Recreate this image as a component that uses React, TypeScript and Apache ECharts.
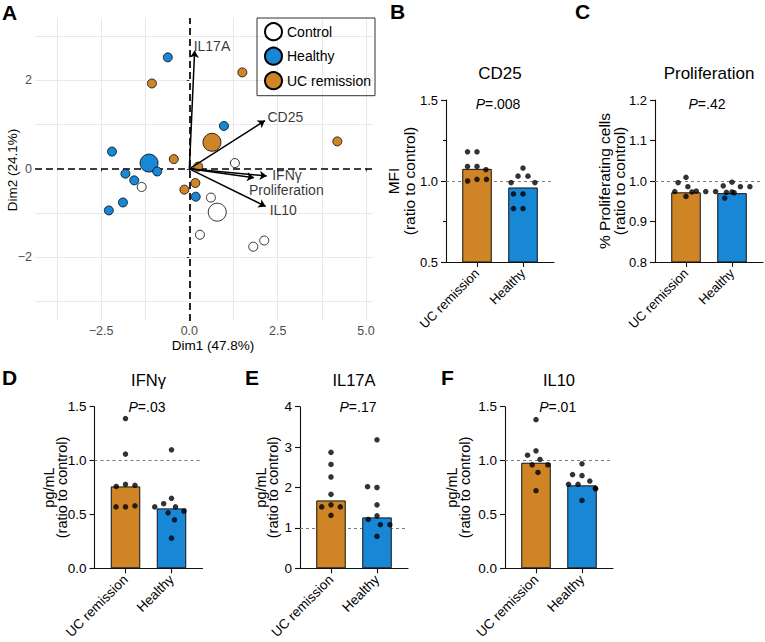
import React, { useEffect, useRef } from 'react';
import * as echarts from 'echarts';

const FONT = '"Liberation Sans", Arial, Helvetica, sans-serif';
const ORANGE = '#CF8526';
const BLUE = '#1787D6';

// ---------- Panel A: PCA biplot ----------
const controlX = [1.29, -1.35, 0.61, 0.3, 2.12, 1.81];
const controlY = [0.13, -0.41, -0.65, -1.49, -1.62, -1.76];
const controlMean = [0.79, -0.98];
const healthyX = [-0.61, 0.98, -2.19, -0.91, -1.81, -1.56, -1.88, -2.28, 0.18];
const healthyY = [2.52, 0.97, 0.39, -0.06, -0.11, -0.26, -0.76, -0.94, -0.63];
const healthyMean = [-1.14, 0.13];
const ucX = [-1.06, 1.5, 4.19, -0.44, 0.25, 0.17, -0.14];
const ucY = [1.93, 2.18, 0.62, 0.22, 0.05, -0.32, -0.47];
const ucMean = [0.64, 0.6];

const loadingNames = ['IL17A', 'CD25', 'IFNγ', 'Proliferation', 'IL10'];
const loadingX = [0.15, 2.14, 2.19, 1.83, 2.16];
const loadingY = [2.67, 1.09, -0.16, -0.2, -0.85];

const pcaXTicks = [-2.5, 0, 2.5, 5];
const pcaYTicks = [-2, 0, 2];
const pcaXGrid = [-3.75, -2.5, -1.25, 1.25, 2.5, 3.75, 5];
const pcaYGrid = [-3, -2, -1, 1, 2, 3];
const pcaXName = 'Dim1 (47.8%)';
const pcaYName = 'Dim2 (24.1%)';
const legendNames = ['Control', 'Healthy', 'UC remission'];

// ---------- Panels B-F ----------
const groupNames = ['UC remission', 'Healthy'];

const cd25Bars = [1.075, 0.96];
const cd25UC = [1.18, 1.18, 1.09, 1.09, 1.07, 1.01, 1.0, 1.01];
const cd25Healthy = [1.08, 1.03, 1.03, 0.99, 0.99, 0.92, 0.92, 0.83, 0.83];

const prolifBars = [0.972, 0.97];
const prolifUC = [1.009, 0.996, 0.986, 0.975, 0.974, 0.974, 0.973, 0.962];
const prolifHealthy = [0.997, 0.988, 0.986, 0.986, 0.974, 0.973, 0.972, 0.971, 0.958];

const ifngBars = [0.76, 0.556];
const ifngUC = [1.39, 1.06, 0.78, 0.76, 0.77, 0.57, 0.58, 0.57];
const ifngHealthy = [1.1, 0.65, 0.6, 0.57, 0.53, 0.57, 0.515, 0.45, 0.28];

const il17Bars = [1.68, 1.26];
const il17UC = [2.87, 2.57, 2.26, 1.83, 1.57, 1.52, 1.52, 1.31];
const il17Healthy = [3.18, 2.0, 2.02, 1.57, 1.3, 1.21, 1.08, 1.08, 0.79];

const il10Bars = [0.98, 0.77];
const il10UC = [1.38, 1.09, 1.05, 1.01, 0.96, 0.96, 0.89, 0.72];
const il10Healthy = [0.97, 0.86, 0.87, 0.81, 0.78, 0.78, 0.74, 0.74, 0.63];

const pValues = ['.008', '.42', '.03', '.17', '.01'];

// layout / style for each bar panel
const panels = [
  { letter: 'B', letterX: 390, title: 'CD25', yTitle: ['MFI', '(ratio to control)'], bars: cd25Bars, uc: cd25UC, healthy: cd25Healthy, p: pValues[0],
    min: 0.5, max: 1.5, interval: 0.5, minor: true, dec: 1, x0: 446, top: 100, bottom: 262, titleY: 73, pY: 104, pDx: 52, yTitleX: [393.5, 409.5], letterY: 11, row: 0 },
  { letter: 'C', letterX: 575, title: 'Proliferation', yTitle: ['% Proliferating cells', '(ratio to control)'], bars: prolifBars, uc: prolifUC, healthy: prolifHealthy, p: pValues[1],
    min: 0.8, max: 1.2, interval: 0.1, minor: false, dec: 1, x0: 655, top: 100, bottom: 262, titleY: 73, pY: 104, pDx: 52, yTitleX: [604.5, 619], letterY: 11, row: 0 },
  { letter: 'D', letterX: 2, title: 'IFNγ', yTitle: ['pg/mL', '(ratio to control)'], bars: ifngBars, uc: ifngUC, healthy: ifngHealthy, p: pValues[2],
    min: 0, max: 1.5, interval: 0.5, minor: false, dec: 1, x0: 94.5, top: 406.7, bottom: 568.3, titleY: 380, pY: 406.7, pDx: 52.5, yTitleX: [49, 62], letterY: 377.5, row: 1 },
  { letter: 'E', letterX: 245, title: 'IL17A', yTitle: ['pg/mL', '(ratio to control)'], bars: il17Bars, uc: il17UC, healthy: il17Healthy, p: pValues[3],
    min: 0, max: 4, interval: 1, minor: false, dec: 0, x0: 300, top: 406.7, bottom: 568.3, titleY: 380, pY: 406.7, pDx: 58, yTitleX: [261, 272.5], letterY: 377.5, row: 1 },
  { letter: 'F', letterX: 441, title: 'IL10', yTitle: ['pg/mL', '(ratio to control)'], bars: il10Bars, uc: il10UC, healthy: il10Healthy, p: pValues[4],
    min: 0, max: 1.5, interval: 0.5, minor: false, dec: 1, x0: 505, top: 406.7, bottom: 568.3, titleY: 380, pY: 406.7, pDx: 52.7, yTitleX: [452, 464.5], letterY: 377.5, row: 1 },
];

const loadingLabelOffset = [[-3.5, -4.5], [0, -4], [3, -1], [-7.5, 12.5], [1.5, 3.5]];

const minus = (s: string) => s.replace('-', '\u2212');

function text(x: number, y: number, t: string, size: number, opts: any = {}) {
  const align = opts.align || 'center';
  return {
    type: 'text',
    x,
    y,
    rotation: opts.rot || 0,
    silent: true,
    z: 10,
    style: {
      text: t,
      fontSize: size,
      fontFamily: FONT,
      fontWeight: opts.bold ? 'bold' : 'normal',
      fill: opts.fill || '#000',
      align,
      textAlign: align,
      verticalAlign: 'middle',
      textVerticalAlign: 'middle',
      rich: opts.rich,
    },
  };
}

function buildOption() {
  const grid: any[] = [{ left: 35, top: 18, width: 338, height: 303 }];
  const xAxis: any[] = [
    {
      gridIndex: 0, type: 'value', min: -4.37, max: 5.2,
      axisLine: { show: false },
      axisTick: { show: true, customValues: pcaXTicks, length: 2.5, lineStyle: { color: '#333', width: 1 } },
      axisLabel: { customValues: pcaXTicks, formatter: (v: number) => minus(v.toFixed(1)), fontSize: 12.5, color: '#4D4D4D', margin: 3, fontFamily: FONT },
      splitLine: { show: false },
    },
  ];
  const yAxis: any[] = [
    {
      gridIndex: 0, type: 'value', min: -3.44, max: 3.41,
      axisLine: { show: false },
      axisTick: { show: true, customValues: pcaYTicks, length: 2.5, lineStyle: { color: '#333', width: 1 } },
      axisLabel: { customValues: pcaYTicks, formatter: (v: number) => minus(String(v)), fontSize: 12.5, color: '#4D4D4D', margin: 3, fontFamily: FONT },
      splitLine: { show: false },
    },
  ];
  const series: any[] = [];

  // light grid lines
  series.push({
    type: 'line', xAxisIndex: 0, yAxisIndex: 0, data: [], silent: true,
    markLine: {
      silent: true, z: 0, symbol: ['none', 'none'], label: { show: false },
      lineStyle: { color: '#E9E9E9', width: 1, type: 'solid' },
      data: [...pcaXGrid.map((v) => ({ xAxis: v })), ...pcaYGrid.map((v) => ({ yAxis: v }))],
    },
  });
  // dashed zero lines
  series.push({
    type: 'line', xAxisIndex: 0, yAxisIndex: 0, data: [], silent: true,
    markLine: {
      silent: true, z: 1, symbol: ['none', 'none'], label: { show: false },
      lineStyle: { color: '#000', width: 1.7, type: [7, 4] },
      data: [{ xAxis: 0 }, { yAxis: 0 }],
    },
  });
  const pcaGroups = [
    { name: 'Control', xs: controlX, ys: controlY, mean: controlMean, color: '#FFFFFF' },
    { name: 'Healthy', xs: healthyX, ys: healthyY, mean: healthyMean, color: BLUE },
    { name: 'UC remission', xs: ucX, ys: ucY, mean: ucMean, color: ORANGE },
  ];
  pcaGroups.forEach((g) => {
    series.push({
      type: 'scatter', name: g.name, xAxisIndex: 0, yAxisIndex: 0, z: 2, symbolSize: 9, silent: true,
      itemStyle: { color: g.color, borderColor: '#000', borderWidth: 0.8, opacity: 1 },
      data: [{ value: g.mean, symbolSize: 18 }, ...g.xs.map((x, i) => [x, g.ys[i]])],
    });
  });
  // loading arrows
  series.push({
    type: 'line', xAxisIndex: 0, yAxisIndex: 0, data: [], silent: true,
    markLine: {
      silent: true, z: 4, symbol: ['none', 'arrow'], symbolSize: 7, label: { show: false },
      lineStyle: { color: '#000', width: 1.5, type: 'solid' },
      data: loadingNames.map((n, i) => [{ coord: [0, 0] }, { coord: [loadingX[i], loadingY[i]] }]),
    },
  });
  series.push({
    type: 'scatter', xAxisIndex: 0, yAxisIndex: 0, z: 5, symbolSize: 1, silent: true,
    itemStyle: { color: 'rgba(0,0,0,0)' },
    label: { show: true, position: 'right', distance: 2, formatter: '{b}', fontSize: 14, color: '#000', fontFamily: FONT },
    data: loadingNames.map((n, i) => ({ name: n, value: [loadingX[i], loadingY[i]], label: { offset: loadingLabelOffset[i] } })),
  });

  const graphic: any[] = [
    text(2, 12.5, 'A', 21, { bold: true, align: 'left' }),
    text(213, 345, pcaXName, 13.5),
    text(12, 170, pcaYName, 13.5, { rot: Math.PI / 2 }),
  ];

  panels.forEach((p) => {
    const h = p.bottom - p.top;
    const gOuter = grid.length;
    grid.push({ left: p.x0, top: p.top, width: 108, height: h });
    const gInner = grid.length;
    grid.push({ left: p.x0 + 8, top: p.top, width: 92, height: h });
    const labelSize = p.row === 0 ? 13 : 13.5;

    const xo = xAxis.length;
    xAxis.push({
      gridIndex: gOuter, type: 'value', min: 0, max: 1,
      axisLine: { show: true, lineStyle: { color: '#111', width: 1.1 } },
      axisTick: { show: false }, axisLabel: { show: false }, splitLine: { show: false },
    });
    const xi = xAxis.length;
    xAxis.push({
      gridIndex: gInner, type: 'category', data: groupNames, position: 'bottom',
      jitter: 40, jitterOverlap: false, jitterMargin: 4,
      axisLine: { show: false },
      axisTick: { show: true, alignWithLabel: true, length: 5, lineStyle: { color: '#111', width: 1.1 } },
      axisLabel: { show: true, interval: 0, rotate: 45, margin: 9, fontSize: labelSize, color: '#000', fontFamily: FONT },
      splitLine: { show: false },
    });
    const yo = yAxis.length;
    yAxis.push({
      gridIndex: gOuter, type: 'value', min: p.min, max: p.max, interval: p.interval,
      axisLine: { show: true, lineStyle: { color: '#111', width: 1.1 } },
      axisTick: { show: true, length: 5, lineStyle: { color: '#111', width: 1.1 } },
      minorTick: { show: p.minor, splitNumber: 2, length: 3, lineStyle: { color: '#111', width: 1.1 } },
      axisLabel: { fontSize: labelSize, color: '#000', margin: 8, fontFamily: FONT, formatter: (v: number) => v.toFixed(p.dec) },
      splitLine: { show: false },
    });
    const yi = yAxis.length;
    yAxis.push({ gridIndex: gInner, type: 'value', min: p.min, max: p.max, interval: p.interval, show: false });

    // dashed reference line at 1 (ratio to control)
    series.push({
      type: 'line', xAxisIndex: xo, yAxisIndex: yo, data: [], silent: true,
      markLine: {
        silent: true, z: 1, symbol: ['none', 'none'], label: { show: false },
        lineStyle: { color: '#7A7A7A', width: 1, type: [3, 3] },
        data: [{ yAxis: 1 }],
      },
    });
    series.push({
      type: 'bar', xAxisIndex: xi, yAxisIndex: yi, z: 2, barWidth: 29.5, silent: true,
      itemStyle: { borderColor: '#111', borderWidth: 1 },
      data: p.bars.map((v, k) => ({ value: v, itemStyle: { color: k === 0 ? ORANGE : BLUE } })),
    });
    series.push({
      type: 'scatter', xAxisIndex: xi, yAxisIndex: yi, z: 3, symbolSize: 5.5, silent: true,
      itemStyle: { color: '#000' },
      data: p.uc.map((v) => [groupNames[0], v]),
    });
    series.push({
      type: 'scatter', xAxisIndex: xi, yAxisIndex: yi, z: 3, symbolSize: 5.5, silent: true,
      itemStyle: { color: '#000' },
      data: p.healthy.map((v) => [groupNames[1], v]),
    });

    const ytSize = p.row === 0 ? 15.5 : 14.5;
    const cy = (p.top + p.bottom) / 2;
    graphic.push(text(p.letterX, p.letterY, p.letter, 21, { bold: true, align: 'left' }));
    graphic.push(text(p.x0 + 54, p.titleY, p.title, p.row === 0 ? 17 : 16.5));
    graphic.push(text(p.x0 + p.pDx, p.pY, '{i|P}=' + p.p, 14, { rich: { i: { fontStyle: 'italic', fontSize: 14, fontFamily: FONT, fill: '#000' } } }));
    graphic.push(text(p.yTitleX[0], cy, p.yTitle[0], ytSize, { rot: Math.PI / 2 }));
    graphic.push(text(p.yTitleX[1], cy, p.yTitle[1], ytSize, { rot: Math.PI / 2 }));
  });

  return {
    animation: false,
    backgroundColor: '#ffffff',
    textStyle: { fontFamily: FONT },
    grid,
    xAxis,
    yAxis,
    legend: {
      data: legendNames, orient: 'vertical', left: 257, top: 18, icon: 'circle',
      itemWidth: 17, itemHeight: 17, itemGap: 5.5, padding: [4.2, 4, 5.5, 7],
      borderColor: '#333', borderWidth: 1, selectedMode: false,
      textStyle: { fontSize: 14, color: '#000', fontFamily: FONT },
    },
    series,
    graphic,
  };
}

export default function App() {
  const ref = useRef<HTMLDivElement>(null);
  useEffect(() => {
    document.body.style.margin = '0';
    const chart = echarts.init(ref.current as HTMLDivElement, undefined, { renderer: 'svg', width: 765, height: 642 });
    chart.setOption(buildOption() as any);
    return () => chart.dispose();
  }, []);
  return (
    <div
      ref={ref}
      style={{ position: 'absolute', left: 0, top: 0, width: 765, height: 642, background: '#fff' }}
    />
  );
}
